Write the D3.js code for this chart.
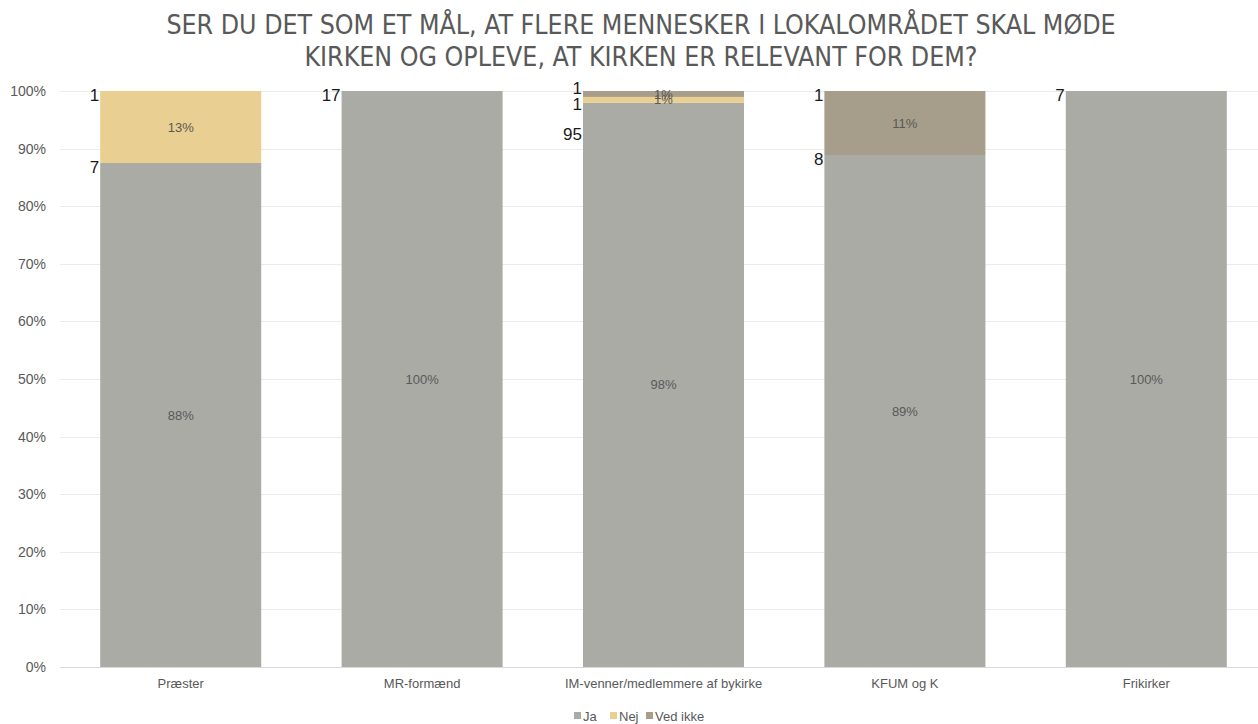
<!DOCTYPE html>
<html>
<head>
<meta charset="utf-8">
<script src="https://cdn.jsdelivr.net/npm/d3@7"></script>
<style>
  body { margin: 0; background: #fff; }
  svg { display: block; font-family: "Liberation Sans", Arial, sans-serif; }
</style>
</head>
<body>
<script>
const w = 1258;
const h = 724;
const padding = { top: 91, right: -9, bottom: 57, left: 60 };

const titleLines = [
  'SER DU DET SOM ET MÅL, AT FLERE MENNESKER I LOKALOMRÅDET SKAL MØDE',
  'KIRKEN OG OPLEVE, AT KIRKEN ER RELEVANT FOR DEM?'
];
const categories = ['Præster', 'MR-formænd', 'IM-venner/medlemmere af bykirke', 'KFUM og K', 'Frikirker'];
const seriesNames = ['Ja', 'Nej', 'Ved ikke'];
const ja = [7, 17, 95, 8, 7];
const nej = [1, 0, 1, 0, 0];
const vedIkke = [0, 0, 1, 1, 0];
const yTicks = [0, 0.1, 0.2, 0.3, 0.4, 0.5, 0.6, 0.7, 0.8, 0.9, 1];
const colors = ['#aaaba5', '#e9cf91', '#a69d8a'];

const table = categories.map((c, i) => ({ cat: c, Ja: ja[i], Nej: nej[i], 'Ved ikke': vedIkke[i] }));
table.forEach(d => { d.total = d.Ja + d.Nej + d['Ved ikke']; });

const stack = d3.stack().keys(seriesNames)
  .value((d, k) => d[k] / d.total);
const series = stack(table);

const xScale = d3.scaleBand().domain(categories)
  .range([padding.left, w - padding.right])
  .paddingInner(0.333).paddingOuter(0.1665);
const yScale = d3.scaleLinear().domain([0, 1]).range([h - padding.bottom, padding.top]);

const svg = d3.select('body').append('svg')
  .attr('width', w)
  .attr('height', h);

// title
svg.append('g').selectAll('text')
  .data(titleLines)
  .enter()
  .append('text')
  .attr('x', w / 2 + 12)
  .attr('y', (d, i) => 34 + i * 32)
  .attr('text-anchor', 'middle')
  .style('font-family', '"Liberation Sans Narrow", "DejaVu Sans Condensed", sans-serif')
  .style('font-size', '26.5px')
  .attr('fill', '#595959')
  .text(d => d);

// gridlines
svg.append('g')
  .selectAll('line')
  .data(yTicks)
  .enter()
  .append('line')
  .attr('x1', padding.left)
  .attr('x2', w)
  .attr('y1', d => Math.round(yScale(d)) + 0.5)
  .attr('y2', d => Math.round(yScale(d)) + 0.5)
  .attr('stroke', d => d === 0 ? '#d9d9d9' : '#ebebeb')
  .attr('stroke-width', 1);

// y axis
const yAxis = d3.axisLeft(yScale).tickValues(yTicks).tickFormat(d3.format('.0%')).tickSize(0).tickPadding(14);
const yg = svg.append('g')
  .attr('id', 'y-axis')
  .attr('transform', `translate(${padding.left},0)`)
  .call(yAxis);
yg.select('.domain').remove();
yg.selectAll('text').attr('fill', '#595959').style('font-size', '14px');

// bars
svg.append('g').selectAll('g')
  .data(series)
  .enter()
  .append('g')
  .attr('fill', (d, i) => colors[i])
  .selectAll('rect')
  .data(d => d)
  .enter()
  .append('rect')
  .attr('x', d => xScale(d.data.cat))
  .attr('y', d => yScale(d[1]))
  .attr('width', xScale.bandwidth())
  .attr('height', d => yScale(d[0]) - yScale(d[1]));

// percent labels
const pct = v => Math.round(v * 100) + '%';
svg.append('g').selectAll('g')
  .data(series)
  .enter()
  .append('g')
  .selectAll('text')
  .data(d => d.filter(s => s[1] - s[0] > 0))
  .enter()
  .append('text')
  .attr('x', d => xScale(d.data.cat) + xScale.bandwidth() / 2)
  .attr('y', d => (yScale(d[0]) + yScale(d[1])) / 2)
  .attr('dy', '0.35em')
  .attr('text-anchor', 'middle')
  .attr('fill', '#595959')
  .style('font-size', '13px')
  .text(d => pct(d[1] - d[0]));

// count labels at the left of each segment top, pushed apart when they collide
const counts = [];
categories.forEach((c, ci) => {
  const labs = [];
  series.slice().reverse().forEach(s => {
    const seg = s[ci];
    const n = seg.data[s.key];
    if (n > 0) labs.push({ cat: c, n: n, y: yScale(seg[1]) + 4 });
  });
  if (labs.length > 2) {
    labs[0].y -= 7;
    for (let k = 1; k < labs.length; k++) {
      if (labs[k].y - labs[k - 1].y < 15) labs[k].y = labs[k - 1].y + (k === labs.length - 1 ? 30 : 16);
    }
  }
  counts.push(...labs);
});
svg.append('g').selectAll('text')
  .data(counts)
  .enter()
  .append('text')
  .attr('x', d => xScale(d.cat) - 1)
  .attr('y', d => d.y)
  .attr('dy', '0.35em')
  .attr('text-anchor', 'end')
  .attr('fill', '#1a1a1a')
  .style('font-size', '17px')
  .text(d => d.n);

// x axis
const xAxis = d3.axisBottom(xScale).tickSize(0).tickPadding(12);
const xg = svg.append('g')
  .attr('id', 'x-axis')
  .attr('transform', `translate(0,${h - padding.bottom})`)
  .call(xAxis);
xg.select('.domain').remove();
xg.selectAll('text').attr('fill', '#595959').style('font-size', '13px');

// legend
const legendX = [574, 610, 646];
const legend = svg.append('g').selectAll('g')
  .data(seriesNames)
  .enter()
  .append('g')
  .attr('transform', (d, i) => `translate(${legendX[i]},716)`);
legend.append('rect')
  .attr('x', 0).attr('y', -4)
  .attr('width', 7).attr('height', 7)
  .attr('fill', (d, i) => colors[i]);
legend.append('text')
  .attr('x', 9)
  .attr('dy', '0.35em')
  .attr('fill', '#595959')
  .style('font-size', '13px')
  .text(d => d);
</script>
</body>
</html>
